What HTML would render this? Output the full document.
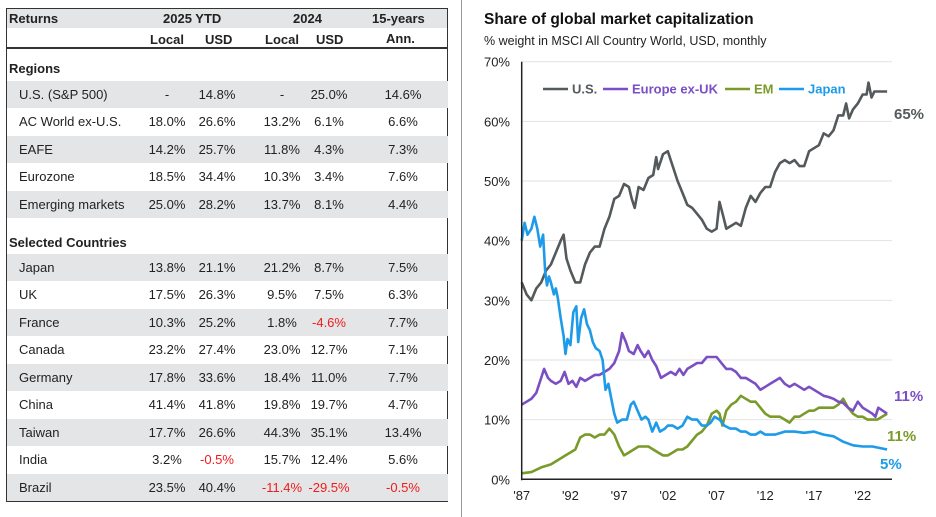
<!DOCTYPE html>
<html><head><meta charset="utf-8">
<style>
body{margin:0;width:936px;height:517px;background:#fff;font-family:"Liberation Sans",Arial,sans-serif;color:#222;position:relative;overflow:hidden}
.a{position:absolute}
.row{position:absolute;left:7px;width:441px;height:27px}
.g{background:#e4e5e6}
.c{position:absolute;font-size:13px;text-align:center;width:60px;top:6px}
.l{position:absolute;left:12px;top:6px;font-size:13px}
.r{color:#f01c1c}
.h{position:absolute;font-size:13px;font-weight:bold}
</style></head><body>
<div class="a" style="left:6px;top:8px;width:440px;height:492px;border:1.5px solid #333"></div>
<div class="a g" style="left:7px;top:9px;width:440px;height:19px"></div>
<div class="a" style="left:6px;top:47px;width:442px;height:1.5px;background:#333"></div>
<div class="h" style="left:9px;top:11px">Returns</div>
<div class="h" style="left:163px;top:11px">2025 YTD</div>
<div class="h" style="left:293px;top:11px">2024</div>
<div class="h" style="left:372px;top:11px">15-years</div>
<div class="h" style="left:150px;top:32px">Local</div>
<div class="h" style="left:205px;top:32px">USD</div>
<div class="h" style="left:265px;top:32px">Local</div>
<div class="h" style="left:316px;top:32px">USD</div>
<div class="h" style="left:386px;top:31px">Ann.</div>
<div class="h" style="left:9px;top:61px">Regions</div>
<div class="h" style="left:9px;top:235px">Selected Countries</div>
<div id="rows"></div>
<div class="a" style="left:461px;top:0;width:1px;height:517px;background:#999"></div>

<svg class="a" style="left:0;top:0" width="936" height="517" id="chart">
<text x="484" y="24" font-size="15.5" font-weight="bold" fill="#111">Share of global market capitalization</text>
<text x="484" y="45" font-size="12.5" fill="#222">% weight in MSCI All Country World, USD, monthly</text>
</svg>
<script>
const tableRows=[
["U.S. (S&P 500)","-","14.8%","-","25.0%","14.6%",95,1],
["AC World ex-U.S.","18.0%","26.6%","13.2%","6.1%","6.6%",122,0],
["EAFE","14.2%","25.7%","11.8%","4.3%","7.3%",150,1],
["Eurozone","18.5%","34.4%","10.3%","3.4%","7.6%",177,0],
["Emerging markets","25.0%","28.2%","13.7%","8.1%","4.4%",205,1],
["Japan","13.8%","21.1%","21.2%","8.7%","7.5%",268,1],
["UK","17.5%","26.3%","9.5%","7.5%","6.3%",295,0],
["France","10.3%","25.2%","1.8%","-4.6%","7.7%",323,1],
["Canada","23.2%","27.4%","23.0%","12.7%","7.1%",350,0],
["Germany","17.8%","33.6%","18.4%","11.0%","7.7%",378,1],
["China","41.4%","41.8%","19.8%","19.7%","4.7%",405,0],
["Taiwan","17.7%","26.6%","44.3%","35.1%","13.4%",433,1],
["India","3.2%","-0.5%","15.7%","12.4%","5.6%",460,0],
["Brazil","23.5%","40.4%","-11.4%","-29.5%","-0.5%",488,1]];
const colX=[167,217,282,329,403];
const rc=document.getElementById('rows');
tableRows.forEach(r=>{
 const d=document.createElement('div');
 d.className='row'+(r[7]?' g':'');
 d.style.top=(r[6]-14)+'px';
 
 
 let h='<div class="l">'+r[0].replace('&','&amp;')+'</div>';
 for(let i=0;i<5;i++){const v=r[i+1];h+='<div class="c'+(v.startsWith('-')&&v.length>1?' r':'')+'" style="left:'+(colX[i]-7-30)+'px">'+v+'</div>';}
 d.innerHTML=h;rc.appendChild(d);
});
</script>
<script>
const usYears=[1987,1987.5,1988,1988.5,1989,1989.5,1990,1990.5,1991,1991.3,1991.6,1992,1992.5,1993,1993.5,1994,1994.5,1995,1995.5,1996,1996.5,1997,1997.5,1998,1998.3,1998.6,1999,1999.5,2000,2000.5,2000.8,2001,2001.5,2002,2002.5,2003,2003.5,2004,2004.5,2005,2005.5,2006,2006.5,2007,2007.3,2007.7,2008,2008.5,2009,2009.5,2010,2010.5,2011,2011.5,2012,2012.5,2013,2013.5,2014,2014.5,2015,2015.5,2016,2016.5,2017,2017.5,2018,2018.5,2019,2019.5,2020,2020.3,2020.6,2021,2021.5,2022,2022.4,2022.6,2022.9,2023.2,2024.5];
const usValues=[33,31,30,32,33,35,36,38,40,41,37,35,33,33,36,38,39,39,42,44,47,47.5,49.5,49,47,45.5,49,48.5,50.5,51,54,52,54.5,55,52.5,50,48,46,45.5,44.5,43.5,42,41.5,42,46.5,44,42,42.5,43,42.5,45.5,47.5,46.5,48,49,49,51.5,53,53.5,53,53.5,52.5,52.5,55,55.5,56,58,57.5,58.5,61,61,63,60.5,62,63,64.5,64.5,66.5,64,65,65];
const jpYears=[1987,1987.3,1987.6,1988,1988.3,1988.6,1988.9,1989.2,1989.4,1989.6,1989.8,1990,1990.3,1990.5,1990.7,1991,1991.3,1991.5,1991.7,1992,1992.3,1992.6,1992.8,1993.1,1993.4,1993.7,1994,1994.3,1994.6,1995,1995.3,1995.6,1995.9,1996.2,1996.5,1996.8,1997.3,1997.8,1998.2,1998.5,1998.9,1999.3,1999.7,2000,2000.4,2000.8,2001.2,2001.7,2002,2002.5,2003,2003.5,2004,2004.5,2005,2005.5,2006,2006.4,2006.8,2007.3,2007.8,2008.4,2009,2009.5,2010,2010.5,2011,2011.5,2012,2012.5,2013,2014,2015,2016,2017,2018,2019,2020,2021,2022,2023,2024.5];
const jpValues=[40,43,41,42,44,42,39,41,35,32.5,34,33,31,32,30.5,27,24,21,23.5,22.5,28,29,23,27,28.5,26,25,23,22,21.5,20,15,16,13.5,11,9.5,10,10,12.5,13,11.5,10,10.5,10,8,9.5,8,8.5,9,9,8.5,9,10.5,10,10,9,9,9.5,10.5,10,9,8.5,8.5,8,8,7.5,7.5,8,7.5,7.5,7.5,8,8,7.8,8,7.5,7.2,6.3,5.7,5.5,5.5,5];
const euYears=[1987,1987.5,1988,1988.5,1989,1989.3,1989.7,1990,1990.5,1991,1991.4,1991.8,1992.2,1992.6,1993,1993.5,1994,1994.5,1995,1995.5,1996,1996.5,1997,1997.3,1997.7,1998,1998.5,1998.9,1999.2,1999.6,2000,2000.4,2000.8,2001.3,2001.8,2002.3,2002.8,2003.2,2003.6,2004,2004.5,2005,2005.5,2006,2006.5,2007,2007.5,2008,2008.5,2009,2009.5,2010,2010.5,2011,2011.5,2012,2012.5,2013,2013.5,2014,2014.5,2015,2015.5,2016,2016.5,2017,2017.5,2018,2018.5,2019,2019.5,2020,2020.5,2021,2021.5,2022,2022.5,2023,2023.3,2023.6,2024.5];
const euValues=[12.5,13,13.5,14.5,17,18.5,17,16.5,16,16.5,18,16,16.5,15.5,17,16.5,17,17.5,17.5,18,18.5,19.5,21.5,24.5,23,21.5,21,22.5,21.5,20.5,21.5,20,19,17,17.5,18,17.5,18.5,17.5,18.5,19,19.5,19.5,20.5,20.5,20.5,19.5,18.5,18.5,18,17,17,16.5,16,15,15.5,16,16.5,17,16,15.5,16,15.5,15,15.5,15,14.5,14,13.8,13.5,13,12.8,12,11.5,13,12,11.5,11,10.5,12,11];
const emYears=[1987,1988,1989,1990,1991,1991.5,1992,1992.5,1993,1993.5,1994,1994.5,1995,1995.5,1996,1996.5,1997,1997.5,1998,1998.5,1999,1999.5,2000,2000.5,2001,2001.5,2002,2002.5,2003,2003.5,2004,2004.5,2005,2005.5,2006,2006.5,2007,2007.3,2007.6,2008,2008.5,2009,2009.5,2010,2010.5,2011,2011.5,2012,2012.5,2013,2013.5,2014,2014.5,2015,2015.5,2016,2016.5,2017,2017.5,2018,2018.5,2019,2019.5,2020,2020.5,2021,2021.5,2022,2022.5,2023,2023.5,2024.5];
const emValues=[1,1.2,2,2.5,3.5,4,4.5,5,7,7.5,7.5,7,7.5,7.5,8.5,7.5,5.5,4,4.5,5,5.5,5.5,5.5,5,4.5,4,4,4.5,5,5,5.5,6.5,7.5,8,9,11,11.5,11,9,11.5,12.5,13,14,13.5,13,13,12,11,10.5,10.5,10.5,10,9.5,10.5,10.5,11,11.5,11.5,12,12,12,12,12.5,13.5,12,11,10.5,10.5,10,10,10,11];
const yTicks=[0,10,20,30,40,50,60,70];
const xTickYears=[1987,1992,1997,2002,2007,2012,2017,2022];
const xTickLabels=["'87","'92","'97","'02","'07","'12","'17","'22"];
const seriesNames=["U.S.","Europe ex-UK","EM","Japan"];
const endLabels=["65%","11%","11%","5%"];

const X0=521.7,X1=862.7,Y0=479.3,YT=61.7;
const xs=y=>X0+(y-1987)*(X1-X0)/35;
const ys=v=>Y0-v*(Y0-YT)/70;
const svg=document.getElementById('chart');
const NS='http://www.w3.org/2000/svg';
function mk(t,a){const e=document.createElementNS(NS,t);for(const k in a)e.setAttribute(k,a[k]);svg.appendChild(e);return e;}
yTicks.forEach(v=>{
 if(v>0){const g=mk('line',{x1:X0,x2:892,y1:ys(v),y2:ys(v),stroke:'#e2e2e2','stroke-width':1});
 
 }
 const t=mk('text',{x:510,y:ys(v)+5,'text-anchor':'end','font-size':13,fill:'#222'});
 
 
 t.textContent=v+'%';
});
xTickYears.forEach((yr,i)=>{
 const t=mk('text',{x:xs(yr),y:500,'text-anchor':'middle','font-size':13,fill:'#222'});
 
 
 t.textContent=xTickLabels[i];
});
const colors=['#54595c','#7b4fc4','#7a9a2a','#1e9be8'];
const series=[[usYears,usValues],[euYears,euValues],[emYears,emValues],[jpYears,jpValues]];
const drawOrder=[0,2,1,3];
drawOrder.forEach(i=>{
 const [yy,vv]=series[i];
 const pts=yy.map((y,k)=>xs(y).toFixed(1)+','+ys(vv[k]).toFixed(1)).join(' ');
 const p=mk('polyline',{points:pts,fill:'none',stroke:colors[i],'stroke-width':2.6,'stroke-linejoin':'round'});
 
 
});
const ax=mk('line',{x1:X0,x2:X0,y1:YT,y2:Y0+1,stroke:'#222','stroke-width':1.5});


const bx=mk('line',{x1:X0,x2:892,y1:Y0,y2:Y0,stroke:'#222','stroke-width':1.5});


// legend
const legX=[543,603,725,779];
seriesNames.forEach((n,i)=>{
 const l=mk('line',{x1:legX[i],x2:legX[i]+25,y1:89,y2:89,stroke:colors[i],'stroke-width':2.6});
 
 
 const t=mk('text',{x:legX[i]+29,y:93.5,'font-size':13,'font-weight':'bold',fill:colors[i]});
 
 
 t.textContent=n;
});
const endY=[119,401,441,469];
endLabels.forEach((s,i)=>{
 const t=mk('text',{x:i==2?887:i==3?880:894,y:endY[i],'font-size':15,'font-weight':'bold',fill:colors[i]});
 
 
 t.textContent=s;
});
</script>
</body></html>
